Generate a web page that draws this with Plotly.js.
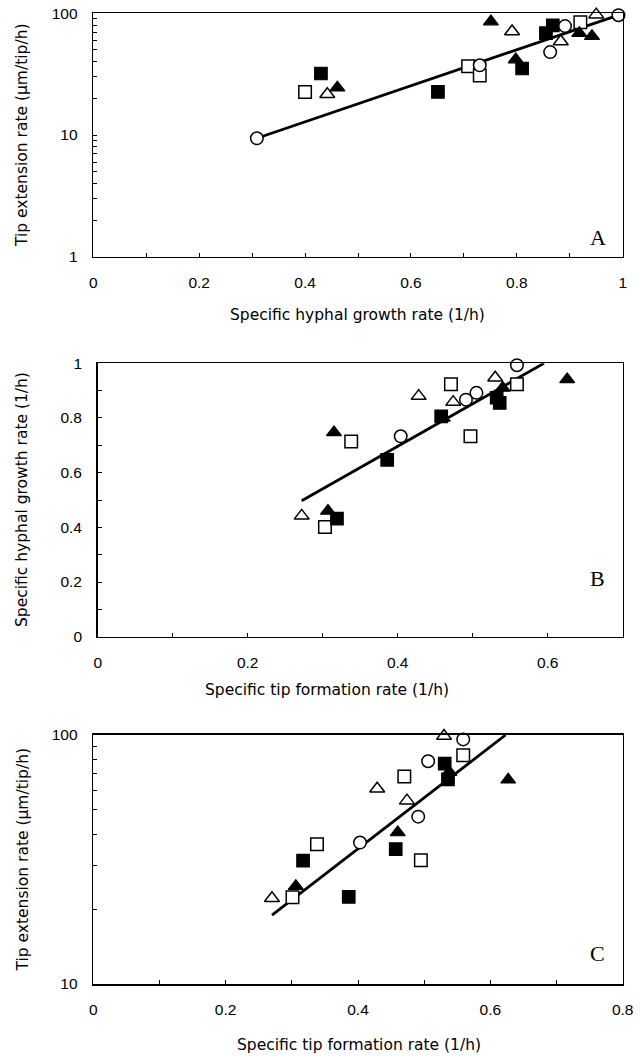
<!DOCTYPE html>
<html>
<head>
<meta charset="utf-8">
<script src="https://cdn.plot.ly/plotly-3.0.1.min.js"></script>
<style>html,body{margin:0;padding:0;background:#fff;}</style>
</head>
<body>
<div id="chart" style="width:643px;height:1056px;"></div>
<script>
// ---------- Panel A: x = specific hyphal growth rate (1/h), y = tip extension rate ----------
const aOpenCircleX   = [0.309, 0.730, 0.863, 0.891, 0.992];
const aOpenCircleY   = [9.4, 37.4, 48.0, 78.5, 96.5];
const aOpenSquareX   = [0.400, 0.708, 0.730, 0.920];
const aOpenSquareY   = [22.6, 36.7, 30.8, 84.5];
const aFilledSquareX = [0.430, 0.651, 0.810, 0.855, 0.868];
const aFilledSquareY = [32.0, 22.6, 35.2, 68.6, 79.5];
const aOpenTriX      = [0.442, 0.791, 0.883, 0.950];
const aOpenTriY      = [21.6, 70.9, 58.6, 97.5];
const aFilledTriX    = [0.461, 0.751, 0.798, 0.918, 0.942];
const aFilledTriY    = [24.5, 85.5, 41.7, 68.6, 64.8];
const aFitX = [0.309, 0.992];
const aFitY = [9.4, 96.5];

// ---------- Panel B: x = specific tip formation rate (1/h), y = specific hyphal growth rate ----------
const bOpenCircleX   = [0.404, 0.491, 0.505, 0.559];
const bOpenCircleY   = [0.733, 0.867, 0.892, 0.993];
const bOpenSquareX   = [0.303, 0.338, 0.471, 0.497, 0.559];
const bOpenSquareY   = [0.401, 0.714, 0.923, 0.733, 0.923];
const bFilledSquareX = [0.319, 0.386, 0.458, 0.532, 0.536];
const bFilledSquareY = [0.432, 0.647, 0.806, 0.874, 0.855];
const bOpenTriX      = [0.272, 0.428, 0.474, 0.530];
const bOpenTriY      = [0.442, 0.880, 0.858, 0.947];
const bFilledTriX    = [0.307, 0.315, 0.460, 0.540, 0.626];
const bFilledTriY    = [0.460, 0.747, 0.800, 0.910, 0.941];
const bFitX = [0.272, 0.595];
const bFitY = [0.497, 1.0];

// ---------- Panel C: x = specific tip formation rate (1/h), y = tip extension rate ----------
const cOpenCircleX   = [0.403, 0.491, 0.506, 0.559];
const cOpenCircleY   = [37.0, 47.0, 78.5, 96.0];
const cOpenSquareX   = [0.301, 0.338, 0.470, 0.495, 0.559];
const cOpenSquareY   = [22.3, 36.4, 68.2, 31.4, 83.0];
const cFilledSquareX = [0.317, 0.386, 0.457, 0.531, 0.536];
const cFilledSquareY = [31.3, 22.4, 34.8, 76.8, 66.4];
const cOpenTriX      = [0.270, 0.429, 0.474, 0.530];
const cOpenTriY      = [22.1, 60.8, 54.5, 99.0];
const cFilledTriX    = [0.306, 0.460, 0.538, 0.627];
const cFilledTriY    = [24.7, 40.6, 71.0, 66.1];
const cFitX = [0.270, 0.623];
const cFitY = [18.9, 100];

// ---------- Tick values / labels ----------
const ax1TickVals = [0, 0.1, 0.2, 0.3, 0.4, 0.5, 0.6, 0.7, 0.8, 0.9, 1];
const ax1TickText = ['0', '', '0.2', '', '0.4', '', '0.6', '', '0.8', '', '1'];
const logTickValsA = [1,2,3,4,5,6,7,8,9,10,20,30,40,50,60,70,80,90,100];
const logTickTextA = ['1','','','','','','','','','10','','','','','','','','','100'];
const ax2TickVals = [0, 0.1, 0.2, 0.3, 0.4, 0.5, 0.6, 0.7];
const ax2TickText = ['0', '', '0.2', '', '0.4', '', '0.6', ''];
const ay2TickVals = [0, 0.1, 0.2, 0.3, 0.4, 0.5, 0.6, 0.7, 0.8, 0.9, 1];
const ay2TickText = ['0', '', '0.2', '', '0.4', '', '0.6', '', '0.8', '', '1'];
const ax3TickVals = [0, 0.1, 0.2, 0.3, 0.4, 0.5, 0.6, 0.7, 0.8];
const ax3TickText = ['0', '', '0.2', '', '0.4', '', '0.6', '', '0.8'];
const logTickValsC = [10,20,30,40,50,60,70,80,90,100];
const logTickTextC = ['10','','','','','','','','','100'];

const W = 643, H = 1056;
const px = v => v / W;
const py = v => 1 - v / H;

function fitTrace(x, y, xa, ya) {
  return {x: x, y: y, xaxis: xa, yaxis: ya, type: 'scatter', mode: 'lines',
          line: {color: 'black', width: 2.8}, cliponaxis: false, hoverinfo: 'skip'};
}
function markTrace(x, y, xa, ya, kind) {
  const m = {
    openSquare:   {symbol: 'square', size: 12.5, color: 'white', line: {color: 'black', width: 1.5}},
    filledSquare: {symbol: 'square', size: 12.5, color: 'black', line: {color: 'black', width: 1.2}},
    openTri:      {symbol: 'triangle-up', size: 13, color: 'white', line: {color: 'black', width: 1.5}},
    filledTri:    {symbol: 'triangle-up', size: 13, color: 'black', line: {color: 'black', width: 1.2}},
    openCircle:   {symbol: 'circle', size: 12.5, color: 'white', line: {color: 'black', width: 1.5}}
  }[kind];
  return {x: x, y: y, xaxis: xa, yaxis: ya, type: 'scatter', mode: 'markers',
          marker: m, cliponaxis: false};
}

const data = [
  fitTrace(aFitX, aFitY, 'x', 'y'),
  markTrace(aOpenSquareX, aOpenSquareY, 'x', 'y', 'openSquare'),
  markTrace(aFilledSquareX, aFilledSquareY, 'x', 'y', 'filledSquare'),
  markTrace(aOpenTriX, aOpenTriY, 'x', 'y', 'openTri'),
  markTrace(aFilledTriX, aFilledTriY, 'x', 'y', 'filledTri'),
  markTrace(aOpenCircleX, aOpenCircleY, 'x', 'y', 'openCircle'),

  fitTrace(bFitX, bFitY, 'x2', 'y2'),
  markTrace(bOpenSquareX, bOpenSquareY, 'x2', 'y2', 'openSquare'),
  markTrace(bFilledTriX, bFilledTriY, 'x2', 'y2', 'filledTri'),
  markTrace(bFilledSquareX, bFilledSquareY, 'x2', 'y2', 'filledSquare'),
  markTrace(bOpenTriX, bOpenTriY, 'x2', 'y2', 'openTri'),
  markTrace(bOpenCircleX, bOpenCircleY, 'x2', 'y2', 'openCircle'),

  fitTrace(cFitX, cFitY, 'x3', 'y3'),
  markTrace(cOpenSquareX, cOpenSquareY, 'x3', 'y3', 'openSquare'),
  markTrace(cFilledSquareX, cFilledSquareY, 'x3', 'y3', 'filledSquare'),
  markTrace(cOpenTriX, cOpenTriY, 'x3', 'y3', 'openTri'),
  markTrace(cFilledTriX, cFilledTriY, 'x3', 'y3', 'filledTri'),
  markTrace(cOpenCircleX, cOpenCircleY, 'x3', 'y3', 'openCircle')
];

const tickFont = {family: 'Liberation Sans, Arial, sans-serif', size: 15.5, color: 'black'};
function axis(extra) {
  return Object.assign({
    showline: true, linecolor: 'black', linewidth: 1.6, mirror: true,
    ticks: 'inside', ticklen: 4, tickwidth: 1, tickcolor: 'black',
    showgrid: false, zeroline: false, tickfont: tickFont,
    tickmode: 'array', ticklabelstandoff: 11, fixedrange: true
  }, extra);
}

const titleFont = {family: 'DejaVu Sans, Liberation Sans, sans-serif', size: 15.5, color: 'black'};
const letterFont = {family: 'Liberation Serif, Times New Roman, serif', size: 22, color: 'black'};
function ann(text, x, y, font, angle) {
  return {text: text, x: px(x), y: py(y), xref: 'paper', yref: 'paper',
          xanchor: 'center', yanchor: 'middle', showarrow: false, font: font,
          textangle: angle || 0};
}

const layout = {
  width: W, height: H,
  margin: {l: 0, r: 0, t: 0, b: 0},
  paper_bgcolor: 'white', plot_bgcolor: 'white',
  showlegend: false,
  xaxis:  axis({domain: [px(93.3), px(622.7)], range: [0, 1], anchor: 'y',
                tickvals: ax1TickVals, ticktext: ax1TickText}),
  yaxis:  axis({domain: [py(256.7), py(13.3)], type: 'log', range: [0, 2], anchor: 'x',
                tickvals: logTickValsA, ticktext: logTickTextA}),
  xaxis2: axis({domain: [px(97.7), px(622.7)], range: [0, 0.7], anchor: 'y2',
                tickvals: ax2TickVals, ticktext: ax2TickText}),
  yaxis2: axis({domain: [py(636.7), py(363.3)], range: [0, 1], anchor: 'x2',
                tickvals: ay2TickVals, ticktext: ay2TickText}),
  xaxis3: axis({domain: [px(93.3), px(622.7)], range: [0, 0.8], anchor: 'y3',
                tickvals: ax3TickVals, ticktext: ax3TickText}),
  yaxis3: axis({domain: [py(984), py(735)], type: 'log', range: [1, 2], anchor: 'x3',
                tickvals: logTickValsC, ticktext: logTickTextC}),
  annotations: [
    ann('Specific hyphal growth rate (1/h)', 357.6, 315, titleFont),
    ann('Tip extension rate (\u03bcm/tip/h)', 22, 135, titleFont, -90),
    ann('A', 598, 238, letterFont),
    ann('Specific tip formation rate (1/h)', 327, 690, titleFont),
    ann('Specific hyphal growth rate (1/h)', 22, 500, titleFont, -90),
    ann('B', 597, 578, letterFont),
    ann('Specific tip formation rate (1/h)', 358.6, 1045, titleFont),
    ann('Tip extension rate (\u03bcm/tip/h)', 22, 859.5, titleFont, -90),
    ann('C', 597, 953, letterFont)
  ]
};

Plotly.newPlot('chart', data, layout, {displayModeBar: false, staticPlot: true});
</script>
</body>
</html>
